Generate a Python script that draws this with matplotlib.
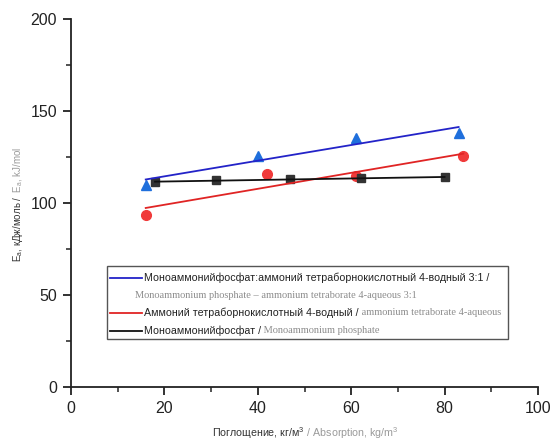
import numpy as np
import matplotlib
matplotlib.use('Agg')
import matplotlib.pyplot as plt
from matplotlib.lines import Line2D
from matplotlib.patches import Rectangle

plt.rcParams['font.family'] = ['Liberation Sans', 'DejaVu Sans']
plt.rcParams['mathtext.fontset'] = 'custom'
plt.rcParams['mathtext.rm'] = 'Liberation Sans'
plt.rcParams['mathtext.it'] = 'Liberation Sans'

# --- data ---
mix_x = [16, 40, 61, 83]
mix_y = [110, 125.5, 135.5, 138]
borate_x = [16, 42, 61, 84]
borate_y = [93.5, 116, 114.5, 125.5]
map_x = [18, 31, 47, 62, 80]
map_y = [111.2, 112.5, 112.9, 113.6, 113.9]

ru_labels = ["Моноаммонийфосфат:аммоний тетраборнокислотный 4-водный 3:1 /",
             "Аммоний тетраборнокислотный 4-водный /",
             "Моноаммонийфосфат /"]
en_labels = ["Monoammonium phosphate \u2013 ammonium tetraborate 4-aqueous 3:1",
             "ammonium tetraborate 4-aqueous",
             "Monoammonium phosphate"]

line_colors = ['#2323c8', '#e02424', '#111111']
marker_colors = ['#1f6fdc', '#f03a3a', '#333333']
markers = ['^', 'o', 's']
msizes = [7.5, 7, 5.5]

DARK = '#222222'
GREY = '#8c8c8c'
FS_LEG = 7.7

fig = plt.figure(figsize=(5.51, 4.45), dpi=100)
ax = fig.add_axes([71 / 551, 58 / 445, 467 / 551, 368 / 445])

series = [(mix_x, mix_y), (borate_x, borate_y), (map_x, map_y)]
for (xs, ys), lc, mc, mk, ms in zip(series, line_colors, marker_colors, markers, msizes):
    xs = np.array(xs, dtype=float)
    ys = np.array(ys, dtype=float)
    ax.plot(xs, ys, linestyle='none', marker=mk, ms=ms, color=mc, zorder=3)
    # linear fit over the range of the series
    k, b = np.polyfit(xs, ys, 1)
    xf = np.array([xs.min(), xs.max()])
    ax.plot(xf, k * xf + b, color=lc, lw=1.3, zorder=4)

ax.set_xlim(0, 100)
ax.set_ylim(0, 200)
ax.set_xticks([0, 20, 40, 60, 80, 100])
ax.set_xticks([10, 30, 50, 70, 90], minor=True)
ax.set_yticks([0, 50, 100, 150, 200])
ax.set_yticks([25, 75, 125, 175], minor=True)
ax.spines['top'].set_visible(False)
ax.spines['right'].set_visible(False)
for s in ['left', 'bottom']:
    ax.spines[s].set_linewidth(1.3)
    ax.spines[s].set_color(DARK)
ax.tick_params(which='major', length=6, width=1.3, labelsize=11.5, colors=DARK, pad=4)
ax.tick_params(which='minor', length=3.5, width=1.1, colors=DARK)

# --- legend drawn by hand (two fonts / colours per entry) ---
fig.add_artist(Rectangle((107 / 551, (445 - 339) / 445), (508 - 107) / 551, 73 / 445,
                         transform=fig.transFigure, fill=False, ec='#555555', lw=1.0))
row_y = [278, 313, 331]
for i, (ry, lc, ru) in enumerate(zip(row_y, line_colors, ru_labels)):
    yf = (445 - ry) / 445
    fig.add_artist(Line2D([110 / 551, 142 / 551], [yf, yf], color=lc, lw=1.3))
    t = fig.text(144 / 551, yf, ru, fontsize=FS_LEG, color=DARK, va='center', ha='left')
    if i > 0:
        ax.annotate(' ' + en_labels[i], xy=(1, 0.08), xycoords=t, fontsize=FS_LEG - 0.2,
                    color=GREY, family='Liberation Serif', va='bottom', ha='left')
# first entry's english text sits on its own row
fig.text(135 / 551, (445 - 296) / 445, en_labels[0], fontsize=FS_LEG - 0.2, color=GREY,
         family='Liberation Serif', va='center', ha='left')

# --- axis labels, two colours each ---
xl = fig.text(212 / 551, 4 / 445, "Поглощение, кг/м$^3$", fontsize=7.7, color='#333333',
              va='bottom', ha='left')
ax.annotate(" / Absorption, kg/m$^3$", xy=(1, 0), xycoords=xl, fontsize=7.7,
            color='#9a9a9a', va='bottom', ha='left')

yl = fig.text(18 / 551, (445 - 262) / 445, "E$_a$, кДж/моль /", fontsize=7, color='#333333',
              rotation=90, va='bottom', ha='center')
ax.annotate(" E$_a$, kJ/mol", xy=(0.5, 1), xycoords=yl, fontsize=7, color='#9a9a9a',
            rotation=90, va='bottom', ha='center')

fig.savefig('out.png', dpi=100)
